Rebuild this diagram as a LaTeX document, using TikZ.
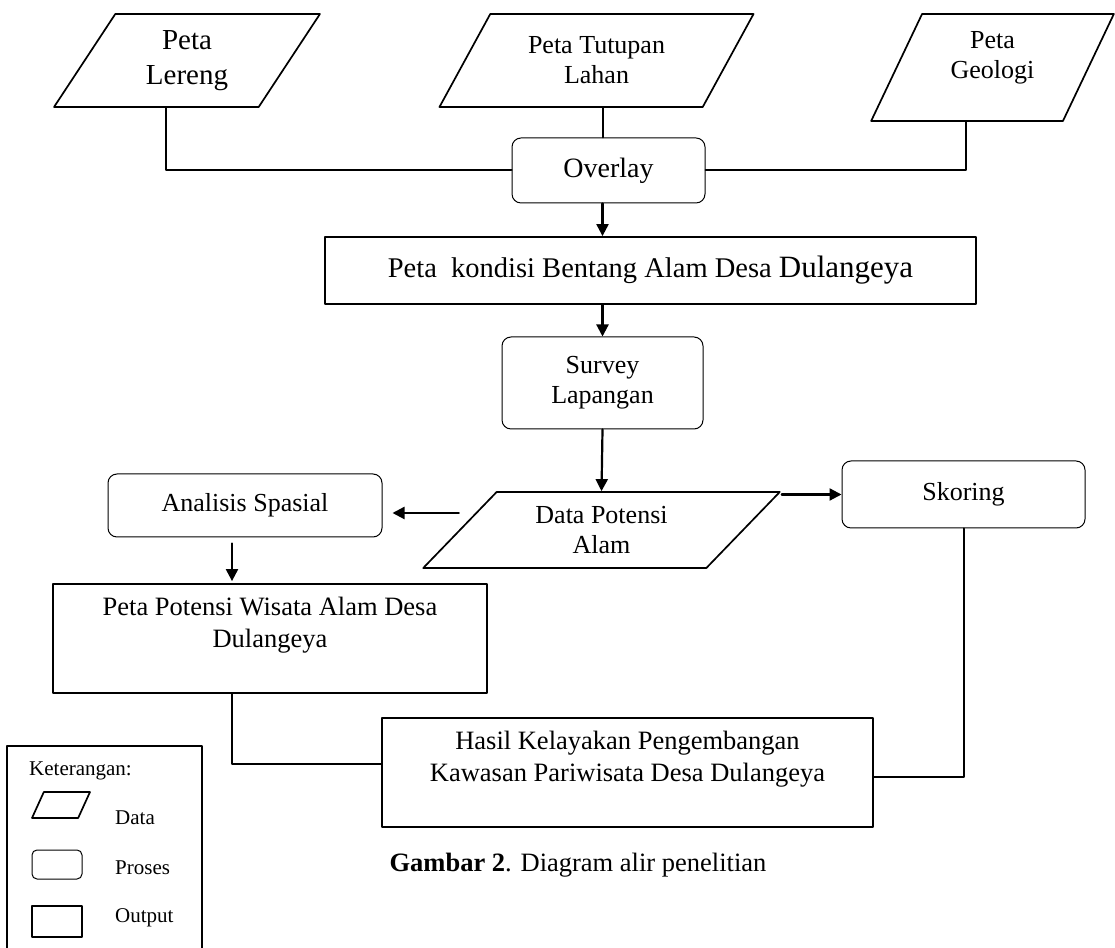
\documentclass[tikz,border=0pt]{standalone}
\usepackage{fontspec}
\setmainfont{Liberation Serif}
\usetikzlibrary{shapes.geometric,arrows.meta}

\begin{document}
\begin{tikzpicture}[line cap=round,line join=round,x=1pt,y=1pt,
	datashape/.style={trapezium,trapezium stretches=true,draw,line width=1.7pt,align=center,inner sep=1pt},
	prosesbox/.style={rectangle,rounded corners=9pt,draw,line width=1pt,align=center},
	outputbox/.style={rectangle,draw,line width=1.8pt,align=center},
	link/.style={line width=2pt},
	flow/.style={line width=2.2pt,-{Triangle[length=12pt,width=12pt]}},
	teks/.style={font=\fontsize{26}{30}\selectfont},
	kecil/.style={font=\fontsize{21}{24}\selectfont,anchor=west,inner sep=0pt}]
	\useasboundingbox (0,0) rectangle (1115,947);
	% peta masukan
	\node[datashape,trapezium left angle=60,trapezium right angle=120,minimum width=266,minimum height=93,font=\fontsize{29}{35}\selectfont] (lereng) at (187,886.5) {Peta\\Lereng};
	\node[datashape,trapezium left angle=56,trapezium right angle=124,minimum width=315,minimum height=93,teks] (tutupan) at (596.5,886.5) {Peta Tutupan\\Lahan};
	\node[datashape,trapezium left angle=67,trapezium right angle=113,minimum width=243,minimum height=107,teks,text depth=24pt] (geologi) at (992.5,879.5) {Peta\\Geologi};

	% proses utama
	\node[prosesbox,minimum width=193,minimum height=65,font=\fontsize{28}{32}\selectfont] (overlay) at (608.5,776.5) {Overlay};
	\node[outputbox,minimum width=651,minimum height=67,font=\fontsize{28.5}{32}\selectfont] (kondisi) at (650.5,676.5) {Peta\ \ kondisi Bentang Alam Desa {\fontsize{31}{32}\selectfont Dulangeya}};
	\node[prosesbox,minimum width=201,minimum height=92,teks] (survey) at (602.5,564) {Survey\\Lapangan};
	\node[datashape,trapezium left angle=46.5,trapezium right angle=133.5,minimum width=357,minimum height=76,teks] (data) at (601.5,417) {Data Potensi\\Alam};
	\node[prosesbox,minimum width=243,minimum height=67,teks] (skoring) at (963.5,452.5) {Skoring};
	\node[prosesbox,minimum width=274,minimum height=63,teks] (analisis) at (245,441.5) {Analisis Spasial};

	% hasil
	\node[outputbox,minimum width=434,minimum height=109,font=\fontsize{26.5}{32}\selectfont] (wisata) at (270,308.5) {Peta Potensi Wisata Alam Desa\\Dulangeya\\\mbox{}};
	\node[outputbox,minimum width=491,minimum height=109,font=\fontsize{26.5}{32}\selectfont] (hasil) at (627.5,174.5) {Hasil Kelayakan Pengembangan\\Kawasan Pariwisata Desa Dulangeya\\\mbox{}};
	\node[font=\fontsize{26.5}{30}\selectfont] (judul) at (578,82) {\textbf{Gambar 2}. Diagram alir penelitian};

	% garis
	\draw[link] ([xshift=-21pt]lereng.south) |- (overlay.west);
	\draw[link] ([xshift=-26.5pt]geologi.south) |- (overlay.east);
	\draw[link] (tutupan.south -| survey.north) -- (overlay.north -| survey.north);
	\draw[flow] (overlay.south -| survey.north) -- (kondisi.north -| survey.north);
	\draw[flow] (kondisi.south -| survey.north) -- (survey.north);
	\draw[flow] (survey.south) -- (data.north);
	\draw[flow] (data.top right corner |- skoring.west) -- (skoring.west);
	\draw[flow,shorten >=10pt] ([yshift=-7.5pt]analisis.east -| data.west) -- ([yshift=-7.5pt]analisis.east);
	\draw[flow,shorten <=6pt,shorten >=2pt] ([xshift=-13pt]analisis.south) -- ([xshift=-13pt]analisis.south |- wisata.north);
	\draw[link] ([xshift=-38pt]wisata.south) |- ([yshift=8.5pt]hasil.west);
	\draw[link] (skoring.south) |- ([yshift=-4.5pt]hasil.east);

	% keterangan
	\draw[line width=1.5pt] (7,-2) |- (202,201) -- (202,-2);
	\node[kecil] (ket) at (29,176) {Keterangan:};
	\node[datashape,trapezium left angle=71,trapezium right angle=109,minimum width=58,minimum height=26] (ldata) at (61,142) {};
	\node[kecil] (tdata) at (115,129) {Data};
	\node[prosesbox,rounded corners=5pt,minimum width=50,minimum height=29] (lproses) at (57,82.5) {};
	\node[kecil] (tproses) at (115,79) {Proses};
	\node[outputbox,minimum width=50,minimum height=31] (loutput) at (57,25.5) {};
	\node[kecil] (toutput) at (115,29) {Output};
\end{tikzpicture}
\end{document}
